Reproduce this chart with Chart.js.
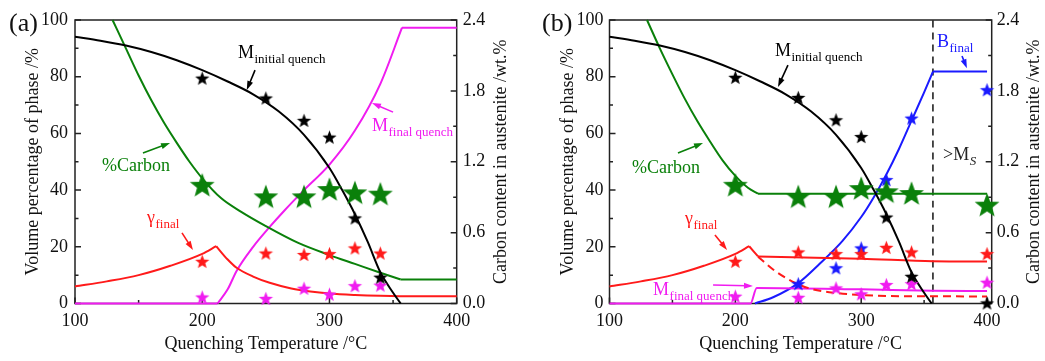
<!DOCTYPE html>
<html>
<head>
<meta charset="utf-8">
<title>Phase fractions vs quenching temperature</title>
<script src="https://cdn.jsdelivr.net/npm/chart.js@4.4.1/dist/chart.umd.min.js"></script>
<style>
  body { margin: 0; background: #fff; }
  #wrap { position: relative; width: 1045px; height: 361px; }
  canvas { position: absolute; top: 0; }
</style>
</head>
<body>
<div id="wrap">
  <canvas id="panelA" width="520" height="361" style="left:0"></canvas>
  <canvas id="panelB" width="525" height="361" style="left:520px"></canvas>
</div>
<script>
// ---- tick labels ----
const tempTicks = [100, 200, 300, 400];
const volTicks = [0, 20, 40, 60, 80, 100];
const carbonTicks = [0, 0.6, 1.2, 1.8, 2.4];

// ---- measured points (stars) ----
const starT = [200, 250, 280, 300, 320, 340];
const aMInit = [79.5, 72.5, 64.6, 58.7, 30.2, 9.3];
const aCarbon = [1.005, 0.907, 0.907, 0.969, 0.941, 0.93];
const aGamma = [14.9, 17.8, 17.3, 17.6, 19.6, 17.8];
const aMFinal = [2.3, 1.8, 5.4, 3.3, 6.3, 6.5];

const starTb = [200, 250, 280, 300, 320, 340, 400];
const bMInit = [79.8, 72.7, 64.8, 58.9, 30.5, 9.6, 0.2];
const bCarbon = [1.005, 0.907, 0.907, 0.977, 0.95, 0.935, 0.837];
const bGamma = [14.9, 18.2, 17.6, 17.6, 19.8, 18.2, 17.6];
const bMFinal = [2.6, 2.2, 5.5, 3.4, 6.7, 7.0, 7.5];
const bBainite = [null, 7.0, 12.6, 19.6, 43.7, 65.4, 75.4];

// ---- model curves ----
const mInitT = [100, 120, 140, 160, 180, 200, 220, 240, 260, 280, 300, 310, 320, 330, 340, 350, 356];
const mInitV = [94.1, 92.7, 91, 88.7, 85.8, 82.3, 78.3, 73.8, 67.8, 59.5, 47.8, 40, 31.5, 21.8, 11, 3.8, 0];

const aCarbT = [129.5, 140, 150, 160, 170, 180, 190, 200, 215, 230, 250, 275, 300, 320, 340, 356];
const aCarbV = [2.4, 2.16, 1.93, 1.72, 1.53, 1.36, 1.2, 1.06, 0.89, 0.78, 0.655, 0.515, 0.41, 0.335, 0.26, 0.203];
const aCarbFlatT = [356, 400];
const aCarbFlatV = [0.203, 0.203];

const gammaRiseT = [100, 125, 150, 175, 200, 211];
const gammaRiseV = [6, 7.8, 10, 13.3, 17.5, 20.2];
const aGammaFallT = [211, 220, 227, 240, 253, 270, 285, 300, 320, 340, 355, 400];
const aGammaFallV = [20.2, 15.5, 12.6, 9.5, 7.3, 5.3, 4.2, 3.5, 3.0, 2.7, 2.6, 2.6];

const aMFinZeroT = [100, 212];
const aMFinZeroV = [0, 0];
const aMFinT = [212, 220, 227, 240, 253, 265, 280, 300, 320, 340, 357];
const aMFinV = [0, 5, 11.5, 20, 27, 33, 40, 49, 61, 77.5, 97.3];
const aMFinFlatT = [357, 400];
const aMFinFlatV = [97.3, 97.3];

const bCarbT = [129.8, 140, 150, 160, 170, 180, 190, 200, 210, 218];
const bCarbV = [2.4, 2.16, 1.94, 1.73, 1.54, 1.37, 1.21, 1.08, 0.98, 0.93];
const bCarbFlatT = [218, 400];
const bCarbFlatV = [0.93, 0.93];

const bGammaDropT = [211, 218];
const bGammaDropV = [20.2, 16.6];
const bGammaSolidT = [218, 300, 357, 400];
const bGammaSolidV = [16.6, 15.8, 14.9, 14.8];
const bGammaDashT = [218, 230, 245, 260, 280, 300, 330, 400];
const bGammaDashV = [16.5, 12, 7.8, 5.2, 3.7, 3.0, 2.6, 2.5];

const bMFinT = [100, 212, 217, 300, 357, 400];
const bMFinV = [0, 0, 5.5, 5.0, 4.5, 4.4];

const bBainT = [215.6, 230, 250, 267, 285, 300, 310, 320, 330, 340, 350, 357];
const bBainV = [0, 2.2, 7.2, 14, 22, 30.5, 37.5, 45.5, 54.5, 64.5, 74.5, 81.8];
const bBainFlatT = [357, 400];
const bBainFlatV = [81.8, 81.8];

const msTemp = 357;

// ---- look ----
const SERIF = '"Liberation Serif", "Times New Roman", serif';
Chart.defaults.font.family = SERIF;
Chart.defaults.font.size = 18;
Chart.defaults.color = '#111';

const BLACK = '#000000', GREEN = '#0a800a', RED = '#ff1a1a', MAGENTA = '#f01cf0', BLUE = '#1a1aff';

function starImage(r, color) {
  const c = document.createElement('canvas');
  const s = Math.ceil(r * 2 + 2);
  c.width = s; c.height = s;
  const g = c.getContext('2d');
  g.translate(s / 2, s / 2 + r * 0.1);
  g.beginPath();
  for (let i = 0; i < 10; i++) {
    const rr = i % 2 ? r * 0.42 : r;
    const a = -Math.PI / 2 + i * Math.PI / 5;
    g.lineTo(rr * Math.cos(a), rr * Math.sin(a));
  }
  g.closePath();
  g.fillStyle = color;
  g.fill();
  return c;
}

const pts = (xs, ys) => xs.map((x, i) => ({ x: x, y: ys[i] })).filter(p => p.y !== null);

function curve(xs, ys, color, axis, dash) {
  return {
    data: pts(xs, ys), borderColor: color, borderWidth: 2, pointRadius: 0,
    cubicInterpolationMode: 'monotone', yAxisID: axis, order: 2,
    borderDash: dash || [], clip: false
  };
}
function stars(xs, ys, color, axis, r) {
  return {
    data: pts(xs, ys), showLine: false, pointStyle: starImage(r, color),
    pointRadius: 5, pointHoverRadius: 5, yAxisID: axis, order: 0, clip: false
  };
}

// inward ticks, frame, right title and labels
function drawText(ctx, x, y, main, sub, color, italicSub) {
  ctx.fillStyle = color;
  ctx.textAlign = 'left';
  ctx.textBaseline = 'alphabetic';
  ctx.font = '18px ' + SERIF;
  ctx.fillText(main, x, y);
  if (sub) {
    const w = ctx.measureText(main).width;
    ctx.font = (italicSub ? 'italic ' : '') + '13px ' + SERIF;
    ctx.fillText(sub, x + w + 0.5, y + 5);
  }
}
function drawArrow(ctx, x1, y1, x2, y2, color) {
  const a = Math.atan2(y2 - y1, x2 - x1);
  ctx.strokeStyle = color; ctx.fillStyle = color; ctx.lineWidth = 1.6;
  ctx.beginPath();
  ctx.moveTo(x1, y1);
  ctx.lineTo(x2 - 6 * Math.cos(a), y2 - 6 * Math.sin(a));
  ctx.stroke();
  ctx.beginPath();
  ctx.moveTo(x2, y2);
  ctx.lineTo(x2 - 9 * Math.cos(a) + 3 * Math.sin(a), y2 - 9 * Math.sin(a) - 3 * Math.cos(a));
  ctx.lineTo(x2 - 9 * Math.cos(a) - 3 * Math.sin(a), y2 - 9 * Math.sin(a) + 3 * Math.cos(a));
  ctx.closePath();
  ctx.fill();
}

function decoPlugin(opt) {
  return {
    id: 'deco',
    beforeDatasetsDraw(chart) {
      const ctx = chart.ctx;
      const { left, right, top, bottom } = chart.chartArea;
      const sx = chart.scales.x, sy = chart.scales.y, sy2 = chart.scales.y2;
      ctx.save();
      ctx.strokeStyle = '#222';
      ctx.lineWidth = 1.5;
      ctx.strokeRect(left, top, right - left, bottom - top);
      ctx.beginPath();
      const tick = (x1, y1, x2, y2) => { ctx.moveTo(x1, y1); ctx.lineTo(x2, y2); };
      tempTicks.forEach((v, i) => {
        const px = sx.getPixelForValue(v);
        tick(px, bottom, px, bottom - 6);
        if (i < tempTicks.length - 1) {
          const m = sx.getPixelForValue((v + tempTicks[i + 1]) / 2);
          tick(m, bottom, m, bottom - 3.5);
        }
      });
      volTicks.forEach((v, i) => {
        const py = sy.getPixelForValue(v);
        tick(left, py, left + 6, py);
        if (i < volTicks.length - 1) {
          const m = sy.getPixelForValue((v + volTicks[i + 1]) / 2);
          tick(left, m, left + 3.5, m);
        }
      });
      carbonTicks.forEach((v, i) => {
        const py = sy2.getPixelForValue(v);
        tick(right, py, right - 6, py);
        if (i < carbonTicks.length - 1) {
          const m = sy2.getPixelForValue((v + carbonTicks[i + 1]) / 2);
          tick(right, m, right - 3.5, m);
        }
      });
      ctx.stroke();
      ctx.restore();
    },
    afterDraw(chart) {
      const ctx = chart.ctx;
      const sx = chart.scales.x, sy = chart.scales.y;
      const X = v => sx.getPixelForValue(v), Y = v => sy.getPixelForValue(v);
      ctx.save();
      // right axis title, reads bottom to top
      ctx.translate(opt.rightTitleX, (chart.chartArea.top + chart.chartArea.bottom) / 2);
      ctx.rotate(-Math.PI / 2);
      ctx.fillStyle = '#111';
      ctx.font = '18px ' + SERIF;
      ctx.textAlign = 'center';
      ctx.textBaseline = 'middle';
      ctx.fillText('Carbon content in austenite /wt.%', 0, 0);
      ctx.restore();

      ctx.save();
      ctx.fillStyle = '#111';
      ctx.font = '26px ' + SERIF;
      ctx.textAlign = 'left';
      ctx.textBaseline = 'alphabetic';
      ctx.fillText(opt.tag, opt.tagX, 31);
      opt.notes.forEach(n => {
        drawText(ctx, X(n.at[0]), Y(n.at[1]), n.main, n.sub, n.color, n.italicSub);
        if (n.arrow) drawArrow(ctx, X(n.arrow[0]), Y(n.arrow[1]), X(n.arrow[2]), Y(n.arrow[3]), n.color);
      });
      ctx.restore();
    }
  };
}

function makeScales(xMax, leftW, rightW, leftPad, rightPad, leftTitlePad) {
  return {
    x: {
      type: 'linear', min: 100, max: xMax,
      afterBuildTicks: s => { s.ticks = tempTicks.map(v => ({ value: v })); },
      grid: { display: false, drawTicks: false }, border: { display: false },
      ticks: { padding: 7, maxRotation: 0, autoSkip: false, color: '#111' },
      title: { display: true, text: 'Quenching Temperature /°C', color: '#111', padding: { top: 0, bottom: 6 } },
      afterFit: s => { s.height = 57.5; }
    },
    y: {
      position: 'left', min: 0, max: 100,
      afterBuildTicks: s => { s.ticks = volTicks.map(v => ({ value: v })); },
      grid: { display: false, drawTicks: false }, border: { display: false },
      ticks: { padding: leftPad, color: '#111' },
      title: { display: true, text: 'Volume percentage of phase /%', color: '#111', padding: { top: leftTitlePad, bottom: 0 } },
      afterFit: s => { s.width = leftW; }
    },
    y2: {
      position: 'right', min: 0, max: 2.4,
      afterBuildTicks: s => { s.ticks = carbonTicks.map(v => ({ value: v })); },
      grid: { display: false, drawTicks: false }, border: { display: false },
      ticks: { padding: rightPad, color: '#111', callback: v => Number(v).toFixed(1) },
      afterFit: s => { s.width = rightW; }
    }
  };
}

const baseOpts = {
  responsive: false,
  animation: false,
  layout: { padding: { top: 20, left: 0, right: 0, bottom: 0 } },
  plugins: { legend: { display: false }, tooltip: { enabled: false } },
  events: []
};

// ---- panel (a) ----
new Chart(document.getElementById('panelA'), {
  type: 'line',
  data: {
    datasets: [
      stars(starT, aCarbon, GREEN, 'y2', 13),
      stars(starT, aMInit, BLACK, 'y', 7.5),
      stars(starT, aGamma, RED, 'y', 7.5),
      stars(starT, aMFinal, MAGENTA, 'y', 7.5),
      curve(mInitT, mInitV, BLACK, 'y'),
      curve(aCarbT, aCarbV, GREEN, 'y2'),
      curve(aCarbFlatT, aCarbFlatV, GREEN, 'y2'),
      curve(gammaRiseT, gammaRiseV, RED, 'y'),
      curve(aGammaFallT, aGammaFallV, RED, 'y'),
      curve(aMFinZeroT, aMFinZeroV, MAGENTA, 'y'),
      curve(aMFinT, aMFinV, MAGENTA, 'y'),
      curve(aMFinFlatT, aMFinFlatV, MAGENTA, 'y')
    ]
  },
  options: Object.assign({}, baseOpts, { scales: makeScales(400, 75, 63.3, 7, 6, 22.7) }),
  plugins: [decoPlugin({
    tag: '(a)', tagX: 9, rightTitleX: 501,
    notes: [
      { main: 'M', sub: 'initial quench', color: BLACK, at: [228.1, 86.6], arrow: [241.5, 82.3, 235, 75.3] },
      { main: '%Carbon', color: GREEN, at: [121.2, 46.7], arrow: [153.4, 53.1, 174.7, 56.6] },
      { main: 'γ', sub: 'final', color: RED, at: [156.6, 28.4], arrow: [184.1, 24.9, 192.7, 18.9] },
      { main: 'M', sub: 'final quench', color: MAGENTA, at: [333.4, 60.8], arrow: [350, 67.5, 333.4, 70.7] }
    ]
  })]
});

// ---- panel (b) ----
new Chart(document.getElementById('panelB'), {
  type: 'line',
  data: {
    datasets: [
      stars(starTb, bCarbon, GREEN, 'y2', 13),
      stars(starTb, bMInit, BLACK, 'y', 7.5),
      stars(starTb, bGamma, RED, 'y', 7.5),
      stars(starTb, bMFinal, MAGENTA, 'y', 7.5),
      stars(starTb, bBainite, BLUE, 'y', 7.5),
      curve(mInitT, mInitV, BLACK, 'y'),
      curve(bCarbT, bCarbV, GREEN, 'y2'),
      curve(bCarbFlatT, bCarbFlatV, GREEN, 'y2'),
      curve(gammaRiseT, gammaRiseV, RED, 'y'),
      curve(bGammaDropT, bGammaDropV, RED, 'y'),
      curve(bGammaSolidT, bGammaSolidV, RED, 'y'),
      curve(bGammaDashT, bGammaDashV, RED, 'y', [8, 5]),
      curve(bMFinT, bMFinV, MAGENTA, 'y'),
      curve(bBainT, bBainV, BLUE, 'y'),
      curve(bBainFlatT, bBainFlatV, BLUE, 'y'),
      Object.assign(curve([msTemp, msTemp], [0, 100], '#222', 'y', [7, 5]), { borderWidth: 1.6 })
    ]
  },
  options: Object.assign({}, baseOpts, { scales: makeScales(403.7, 89.5, 53.3, 6, 5, 37) }),
  plugins: [decoPlugin({
    tag: '(b)', tagX: 22, rightTitleX: 514,
    notes: [
      { main: 'M', sub: 'initial quench', color: BLACK, at: [231.5, 87.3], arrow: [241.8, 84.1, 233.9, 76.4] },
      { main: 'B', sub: 'final', color: BLUE, at: [360.2, 90.5], arrow: [380.1, 87.3, 384, 83] },
      { main: '>M', sub: 'S', italicSub: true, color: '#222', at: [365, 50.6] },
      { main: '%Carbon', color: GREEN, at: [117.9, 46], arrow: [154.4, 53.1, 174.3, 56.6] },
      { main: 'γ', sub: 'final', color: RED, at: [160, 28], arrow: [183.8, 24.2, 193.4, 18.9] },
      { main: 'M', sub: 'final quench', color: MAGENTA, at: [134.6, 3], arrow: [182.3, 6.5, 214, 6.2] }
    ]
  })]
});
</script>
</body>
</html>
